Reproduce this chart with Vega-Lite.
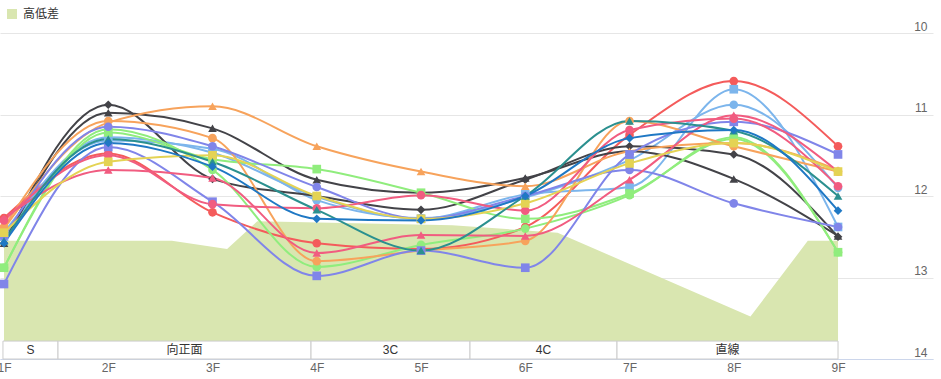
{
  "$schema": "https://vega.github.io/schema/vega-lite/v6.json",
  "width": 933,
  "height": 326,
  "autosize": {"type": "none"},
  "padding": {"left": 0, "top": 33, "right": 8, "bottom": 20},
  "config": {
    "view": {"stroke": null},
    "font": "Liberation Sans, Noto Sans CJK JP, sans-serif"
  },
  "datasets": {
    "terrain": [
      {"x": 1.0, "h": 12.55},
      {"x": 2.61, "h": 12.55},
      {"x": 3.14, "h": 12.65},
      {"x": 3.43, "h": 12.31},
      {"x": 5.3, "h": 12.36},
      {"x": 6.31, "h": 12.45},
      {"x": 8.16, "h": 13.48},
      {"x": 8.71, "h": 12.55},
      {"x": 9.0, "h": 12.55}
    ],
    "sections": [
      {"label": "S", "x1": 0.99, "x2": 1.518},
      {"label": "向正面", "x1": 1.518, "x2": 3.945},
      {"label": "3C", "x1": 3.945, "x2": 5.47},
      {"label": "4C", "x1": 5.47, "x2": 6.88},
      {"label": "直線", "x1": 6.88, "x2": 9.0}
    ],
    "laps": [
      {"s": "R1", "x": 1, "y": 12.27}, {"s": "R1", "x": 2, "y": 11.48}, {"s": "R1", "x": 3, "y": 12.2}, {"s": "R1", "x": 4, "y": 12.58}, {"s": "R1", "x": 5, "y": 12.65}, {"s": "R1", "x": 6, "y": 12.38}, {"s": "R1", "x": 7, "y": 11.25}, {"s": "R1", "x": 8, "y": 10.59}, {"s": "R1", "x": 9, "y": 11.39},
      {"s": "LB1", "x": 1, "y": 12.5}, {"s": "LB1", "x": 2, "y": 11.28}, {"s": "LB1", "x": 3, "y": 11.47}, {"s": "LB1", "x": 4, "y": 12.01}, {"s": "LB1", "x": 5, "y": 12.28}, {"s": "LB1", "x": 6, "y": 11.98}, {"s": "LB1", "x": 7, "y": 11.89}, {"s": "LB1", "x": 8, "y": 10.69}, {"s": "LB1", "x": 9, "y": 12.38},
      {"s": "LB2", "x": 1, "y": 12.45}, {"s": "LB2", "x": 2, "y": 11.32}, {"s": "LB2", "x": 3, "y": 11.42}, {"s": "LB2", "x": 4, "y": 12.05}, {"s": "LB2", "x": 5, "y": 12.27}, {"s": "LB2", "x": 6, "y": 12.02}, {"s": "LB2", "x": 7, "y": 11.56}, {"s": "LB2", "x": 8, "y": 10.88}, {"s": "LB2", "x": 9, "y": 11.9},
      {"s": "D1", "x": 1, "y": 12.58}, {"s": "D1", "x": 2, "y": 10.88}, {"s": "D1", "x": 3, "y": 11.79}, {"s": "D1", "x": 4, "y": 12.0}, {"s": "D1", "x": 5, "y": 12.17}, {"s": "D1", "x": 6, "y": 11.8}, {"s": "D1", "x": 7, "y": 11.39}, {"s": "D1", "x": 8, "y": 11.49}, {"s": "D1", "x": 9, "y": 12.5},
      {"s": "D2", "x": 1, "y": 12.58}, {"s": "D2", "x": 2, "y": 10.98}, {"s": "D2", "x": 3, "y": 11.17}, {"s": "D2", "x": 4, "y": 11.8}, {"s": "D2", "x": 5, "y": 11.96}, {"s": "D2", "x": 6, "y": 11.78}, {"s": "D2", "x": 7, "y": 11.45}, {"s": "D2", "x": 8, "y": 11.79}, {"s": "D2", "x": 9, "y": 12.49},
      {"s": "G1", "x": 1, "y": 12.88}, {"s": "G1", "x": 2, "y": 11.18}, {"s": "G1", "x": 3, "y": 11.68}, {"s": "G1", "x": 4, "y": 12.87}, {"s": "G1", "x": 5, "y": 12.6}, {"s": "G1", "x": 6, "y": 12.4}, {"s": "G1", "x": 7, "y": 11.99}, {"s": "G1", "x": 8, "y": 11.28}, {"s": "G1", "x": 9, "y": 12.69},
      {"s": "G2", "x": 1, "y": 12.88}, {"s": "G2", "x": 2, "y": 11.22}, {"s": "G2", "x": 3, "y": 11.55}, {"s": "G2", "x": 4, "y": 11.67}, {"s": "G2", "x": 5, "y": 11.96}, {"s": "G2", "x": 6, "y": 12.28}, {"s": "G2", "x": 7, "y": 11.97}, {"s": "G2", "x": 8, "y": 11.3}, {"s": "G2", "x": 9, "y": 12.69},
      {"s": "O1", "x": 1, "y": 12.4}, {"s": "O1", "x": 2, "y": 11.1}, {"s": "O1", "x": 3, "y": 10.9}, {"s": "O1", "x": 4, "y": 11.39}, {"s": "O1", "x": 5, "y": 11.7}, {"s": "O1", "x": 6, "y": 11.88}, {"s": "O1", "x": 7, "y": 11.45}, {"s": "O1", "x": 8, "y": 11.35}, {"s": "O1", "x": 9, "y": 11.68},
      {"s": "O2", "x": 1, "y": 12.38}, {"s": "O2", "x": 2, "y": 11.08}, {"s": "O2", "x": 3, "y": 11.29}, {"s": "O2", "x": 4, "y": 12.8}, {"s": "O2", "x": 5, "y": 12.67}, {"s": "O2", "x": 6, "y": 12.55}, {"s": "O2", "x": 7, "y": 11.08}, {"s": "O2", "x": 8, "y": 11.39}, {"s": "O2", "x": 9, "y": 11.7},
      {"s": "P1", "x": 1, "y": 13.08}, {"s": "P1", "x": 2, "y": 11.4}, {"s": "P1", "x": 3, "y": 12.07}, {"s": "P1", "x": 4, "y": 12.98}, {"s": "P1", "x": 5, "y": 12.67}, {"s": "P1", "x": 6, "y": 12.88}, {"s": "P1", "x": 7, "y": 11.49}, {"s": "P1", "x": 8, "y": 11.09}, {"s": "P1", "x": 9, "y": 11.49},
      {"s": "P2", "x": 1, "y": 12.5}, {"s": "P2", "x": 2, "y": 11.15}, {"s": "P2", "x": 3, "y": 11.39}, {"s": "P2", "x": 4, "y": 11.89}, {"s": "P2", "x": 5, "y": 12.28}, {"s": "P2", "x": 6, "y": 12.0}, {"s": "P2", "x": 7, "y": 11.68}, {"s": "P2", "x": 8, "y": 12.09}, {"s": "P2", "x": 9, "y": 12.38},
      {"s": "K1", "x": 1, "y": 12.27}, {"s": "K1", "x": 2, "y": 11.68}, {"s": "K1", "x": 3, "y": 11.78}, {"s": "K1", "x": 4, "y": 12.7}, {"s": "K1", "x": 5, "y": 12.48}, {"s": "K1", "x": 6, "y": 12.49}, {"s": "K1", "x": 7, "y": 11.8}, {"s": "K1", "x": 8, "y": 11.01}, {"s": "K1", "x": 9, "y": 11.7},
      {"s": "K2", "x": 1, "y": 12.3}, {"s": "K2", "x": 2, "y": 11.5}, {"s": "K2", "x": 3, "y": 12.1}, {"s": "K2", "x": 4, "y": 12.15}, {"s": "K2", "x": 5, "y": 11.99}, {"s": "K2", "x": 6, "y": 12.18}, {"s": "K2", "x": 7, "y": 11.19}, {"s": "K2", "x": 8, "y": 11.05}, {"s": "K2", "x": 9, "y": 11.88},
      {"s": "Y1", "x": 1, "y": 12.45}, {"s": "Y1", "x": 2, "y": 11.58}, {"s": "Y1", "x": 3, "y": 11.5}, {"s": "Y1", "x": 4, "y": 12.0}, {"s": "Y1", "x": 5, "y": 12.28}, {"s": "Y1", "x": 6, "y": 12.09}, {"s": "Y1", "x": 7, "y": 11.6}, {"s": "Y1", "x": 8, "y": 11.35}, {"s": "Y1", "x": 9, "y": 11.7},
      {"s": "T1", "x": 1, "y": 12.55}, {"s": "T1", "x": 2, "y": 11.3}, {"s": "T1", "x": 3, "y": 11.58}, {"s": "T1", "x": 4, "y": 12.17}, {"s": "T1", "x": 5, "y": 12.67}, {"s": "T1", "x": 6, "y": 12.0}, {"s": "T1", "x": 7, "y": 11.08}, {"s": "T1", "x": 8, "y": 11.2}, {"s": "T1", "x": 9, "y": 12.0},
      {"s": "B1", "x": 1, "y": 12.58}, {"s": "B1", "x": 2, "y": 11.35}, {"s": "B1", "x": 3, "y": 11.64}, {"s": "B1", "x": 4, "y": 12.28}, {"s": "B1", "x": 5, "y": 12.3}, {"s": "B1", "x": 6, "y": 12.0}, {"s": "B1", "x": 7, "y": 11.29}, {"s": "B1", "x": 8, "y": 11.19}, {"s": "B1", "x": 9, "y": 12.18}
    ]
  },
  "layer": [
    {
      "data": {"name": "terrain"},
      "mark": {"type": "area", "interpolate": "linear"},
      "encoding": {
        "x": {
          "field": "x", "type": "quantitative", "title": null,
          "scale": {"domain": [0.9616, 9.911], "nice": false, "zero": false},
          "axis": {
            "orient": "bottom", "values": [1, 2, 3, 4, 5, 6, 7, 8, 9],
            "labelExpr": "datum.value + 'F'", "grid": false, "ticks": false,
            "domain": true, "domainColor": "#ccd6eb", "domainWidth": 1,
            "labelColor": "#666666", "labelFontSize": 12, "labelPadding": 3,
            "labelFlush": false
          }
        },
        "y": {
          "field": "h", "type": "quantitative", "title": null,
          "scale": {"domain": [10, 14], "reverse": true, "nice": false, "zero": false},
          "axis": {
            "orient": "right", "values": [10, 11, 12, 13, 14], "format": "d",
            "grid": true, "gridColor": "#e6e6e6", "gridWidth": 1,
            "domain": false, "ticks": false, "labelAlign": "right",
            "labelBaseline": "alphabetic", "labelOffset": -3, "labelPadding": -6,
            "labelColor": "#666666", "labelFontSize": 12
          }
        },
        "y2": {"datum": 14},
        "fill": {
          "datum": "高低差",
          "scale": {"range": ["#d9e6b0"]},
          "legend": {
            "orient": "none", "legendX": 6, "legendY": -25, "title": null,
            "symbolType": "square", "symbolSize": 100, "symbolStrokeWidth": 0,
            "labelFontSize": 12, "labelColor": "#333333", "labelOffset": 5
          }
        }
      }
    },
    {
      "data": {"name": "sections"},
      "mark": {"type": "rect", "fill": "white", "stroke": "#cccccc", "strokeWidth": 1},
      "encoding": {
        "x": {"field": "x1", "type": "quantitative", "title": null},
        "x2": {"field": "x2"},
        "y": {"datum": 13.78, "type": "quantitative", "title": null},
        "y2": {"datum": 14}
      }
    },
    {
      "data": {"name": "sections"},
      "transform": [{"calculate": "(datum.x1 + datum.x2) / 2", "as": "xm"}],
      "mark": {"type": "text", "fontSize": 12, "color": "#333333", "baseline": "middle"},
      "encoding": {
        "x": {"field": "xm", "type": "quantitative", "title": null},
        "y": {"datum": 13.89, "type": "quantitative", "title": null},
        "text": {"field": "label"}
      }
    },
    {
      "data": {"name": "laps"},
      "mark": {"type": "line", "strokeWidth": 2, "interpolate": "monotone"},
      "encoding": {
        "x": {"field": "x", "type": "quantitative", "title": null},
        "y": {"field": "y", "type": "quantitative", "title": null},
        "stroke": {
          "field": "s", "type": "nominal", "legend": null,
          "scale": {
            "domain": ["R1", "LB1", "LB2", "D1", "D2", "G1", "G2", "O1", "O2", "P1", "P2", "K1", "K2", "Y1", "T1", "B1"],
            "range": ["#f45b5b", "#7cb5ec", "#7cb5ec", "#434348", "#434348", "#90ed7d", "#90ed7d", "#f7a35c", "#f7a35c", "#8085e9", "#8085e9", "#f15c80", "#f15c80", "#e4d354", "#2b908f", "#1f78c4"]
          }
        }
      }
    },
    {
      "data": {"name": "laps"},
      "mark": {"type": "point", "filled": true, "opacity": 1, "size": 75, "strokeWidth": 0},
      "encoding": {
        "x": {"field": "x", "type": "quantitative", "title": null},
        "y": {"field": "y", "type": "quantitative", "title": null},
        "color": {
          "field": "s", "type": "nominal", "legend": null,
          "scale": {
            "domain": ["R1", "LB1", "LB2", "D1", "D2", "G1", "G2", "O1", "O2", "P1", "P2", "K1", "K2", "Y1", "T1", "B1"],
            "range": ["#f45b5b", "#7cb5ec", "#7cb5ec", "#434348", "#434348", "#90ed7d", "#90ed7d", "#f7a35c", "#f7a35c", "#8085e9", "#8085e9", "#f15c80", "#f15c80", "#e4d354", "#2b908f", "#1f78c4"]
          }
        },
        "shape": {
          "field": "s", "type": "nominal", "legend": null,
          "scale": {
            "domain": ["R1", "LB1", "LB2", "D1", "D2", "G1", "G2", "O1", "O2", "P1", "P2", "K1", "K2", "Y1", "T1", "B1"],
            "range": ["circle", "square", "circle", "diamond", "triangle-up", "circle", "square", "triangle-up", "circle", "square", "circle", "triangle-up", "circle", "square", "triangle-up", "diamond"]
          }
        }
      }
    }
  ]
}
